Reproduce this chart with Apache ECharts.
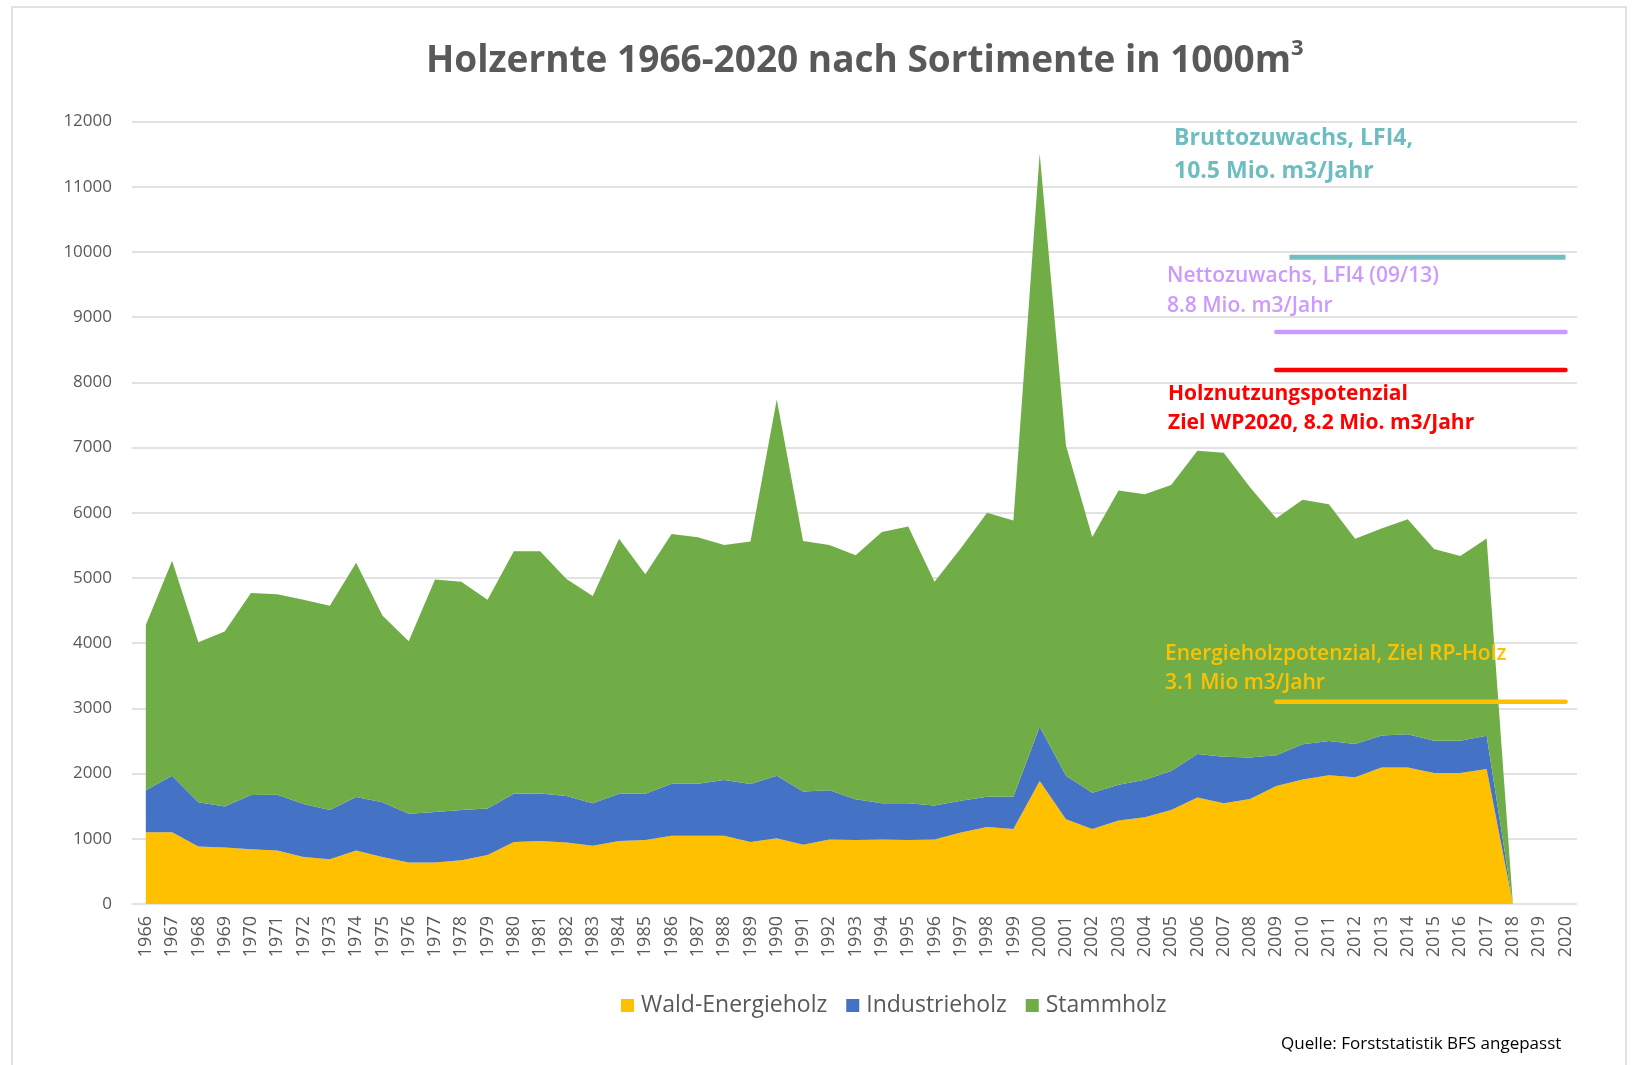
<!DOCTYPE html>
<html><head><meta charset="utf-8">
<script src="https://cdn.jsdelivr.net/npm/echarts@6/dist/echarts.min.js"></script>
<style>html,body{margin:0;padding:0;background:#fff}#c{width:1633px;height:1065px}</style>
</head><body><div id="c"></div>
<script>
const years = ['1966','1967','1968','1969','1970','1971','1972','1973','1974','1975','1976','1977','1978','1979','1980','1981','1982','1983','1984','1985','1986','1987','1988','1989','1990','1991','1992','1993','1994','1995','1996','1997','1998','1999','2000','2001','2002','2003','2004','2005','2006','2007','2008','2009','2010','2011','2012','2013','2014','2015','2016','2017','2018','2019','2020'];

const waldEnergieholz = [1100,1100,880,865,840,820,720,685,820,720,635,635,670,750,950,965,945,895,965,980,1045,1045,1045,950,1010,910,990,980,990,980,990,1095,1180,1150,1885,1300,1150,1280,1330,1440,1635,1545,1610,1810,1910,1975,1945,2095,2095,2010,2010,2070,0,null,null];

const industrieholz = [645,865,680,630,830,855,815,755,820,840,750,775,770,715,740,730,710,650,725,710,800,800,855,890,955,815,755,625,555,565,520,490,465,495,835,665,555,550,575,600,665,715,635,470,540,525,510,490,510,495,495,510,0,null,null];

const stammholz = [2535,3300,2455,2685,3100,3075,3130,3135,3595,2865,2645,3565,3500,3200,3720,3715,3330,3180,3910,3365,3830,3780,3605,3720,5770,3840,3760,3745,4160,4245,3430,3870,4355,4235,8790,5065,3925,4510,4380,4385,4650,4660,4145,3635,3750,3630,3145,3175,3295,2940,2830,3025,0,null,null];

const seriesNames = ['Wald-Energieholz','Industrieholz','Stammholz'];
const seriesColors = ['#FFC000','#4472C4','#70AD47'];

// reference lines (value in 1000 m3, year span)
const refValues = [9920, 8770, 8190, 3100];
const refStart = [2009.5, 2009, 2009, 2009];
const refEnd = [2020, 2020, 2020, 2020];
const refColors = ['#71BFC3','#CC99FF','#FF0000','#FFC000'];

const yTicks = {min: 0, max: 12000, interval: 1000};

const FONT = '"Open Sans", "Noto Sans", sans-serif';

const chart = echarts.init(document.getElementById('c'), null, {renderer: 'canvas'});

const stackData = [waldEnergieholz, industrieholz, stammholz];
const series = stackData.map((d, i) => ({
  name: seriesNames[i],
  type: 'line',
  stack: 'total',
  xAxisIndex: 1,
  yAxisIndex: 1,
  data: d,
  symbol: 'none',
  lineStyle: {width: 0, color: seriesColors[i]},
  itemStyle: {color: seriesColors[i]},
  areaStyle: {color: seriesColors[i], opacity: 1},
  z: 2
}));

refValues.forEach((v, i) => {
  series.push({
    name: 'ref' + i,
    type: 'line',
    xAxisIndex: 2,
    yAxisIndex: 1,
    data: [[refStart[i], v], [refEnd[i], v]],
    symbol: 'none',
    silent: true,
    lineStyle: {color: refColors[i], width: i === 0 ? 5 : 4.5, cap: i === 0 ? 'butt' : 'round'},
    z: 5
  });
});

const annotations = [
  {lines: ['Bruttozuwachs, LFI4,', '10.5 Mio. m3/Jahr'], color: '#6DBDC1', x: 1174, y: 122, size: 23, weight: 'bold', lh: 33},
  {lines: ['Nettozuwachs, LFI4 (09/13)', '8.8 Mio. m3/Jahr'], color: '#CC99FF', x: 1167, y: 261, size: 21, weight: 600, lh: 30},
  {lines: ['Holznutzungspotenzial', 'Ziel WP2020, 8.2 Mio. m3/Jahr'], color: '#FF0000', x: 1168, y: 379, size: 21, weight: 'bold', lh: 29.5},
  {lines: ['Energieholzpotenzial, Ziel RP-Holz', '3.1 Mio m3/Jahr'], color: '#FFC000', x: 1165, y: 639, size: 21, weight: 600, lh: 29.5}
];

const graphic = [
  {type: 'rect', shape: {x: 12, y: 7, width: 1614, height: 1075}, style: {fill: 'none', stroke: '#D9D9D9', lineWidth: 1.5}, z: 0, silent: true}
];
annotations.forEach(a => {
  graphic.push({
    type: 'text', x: a.x, y: a.y, z: 10, silent: true,
    style: {text: a.lines.join('\n'), fill: a.color, fontSize: a.size, fontWeight: a.weight, fontFamily: FONT, lineHeight: a.lh, textVerticalAlign: 'top'}
  });
});
graphic.push({
  type: 'text', x: 1281, y: 1044, z: 10, silent: true,
  style: {text: 'Quelle: Forststatistik BFS angepasst', fill: '#000000', fontSize: 17, fontFamily: FONT, textVerticalAlign: 'middle'}
});

const option = {
  animation: false,
  backgroundColor: '#ffffff',
  title: {
    text: '{a|Holzernte 1966-2020 nach Sortimente in 1000m}{s|3}',
    left: 421,
    top: 33,
    textStyle: {
      rich: {
        a: {fontSize: 37, fontWeight: 'bold', color: '#595959', fontFamily: FONT, lineHeight: 46},
        s: {fontSize: 22, fontWeight: 'bold', color: '#595959', fontFamily: FONT, verticalAlign: 'top', lineHeight: 46}
      }
    }
  },
  legend: {
    data: seriesNames,
    left: 616,
    top: 989,
    icon: 'rect',
    itemWidth: 13,
    itemHeight: 13,
    itemGap: 19,
    textStyle: {fontSize: 23, color: '#595959', fontFamily: FONT, padding: [0, 0, 0, 2]}
  },
  grid: [
    {left: 132, right: 56, top: 121.5, bottom: 161},
    {left: 145.8, right: 67.5, top: 121.5, bottom: 161}
  ],
  xAxis: [
    {gridIndex: 0, type: 'category', data: years, boundaryGap: false, show: false},
    {gridIndex: 1, type: 'category', data: years, boundaryGap: false,
      axisLine: {show: false}, axisTick: {show: false}, splitLine: {show: false},
      axisLabel: {rotate: 90, interval: 0, fontSize: 18, color: '#595959', margin: 12, fontFamily: FONT}},
    {gridIndex: 1, type: 'value', min: 1966, max: 2020, show: false, splitLine: {show: false}}
  ],
  yAxis: [
    {gridIndex: 0, type: 'value', min: yTicks.min, max: yTicks.max, interval: yTicks.interval,
      axisLine: {show: false}, axisTick: {show: false},
      splitLine: {show: true, lineStyle: {color: '#D9D9D9', width: 1.5}},
      axisLabel: {fontSize: 17, color: '#595959', margin: 20, fontFamily: FONT, formatter: v => String(v)}},
    {gridIndex: 1, type: 'value', min: yTicks.min, max: yTicks.max, interval: yTicks.interval, show: false, splitLine: {show: false}}
  ],
  graphic: graphic,
  series: series
};
chart.setOption(option);
</script>
</body></html>
